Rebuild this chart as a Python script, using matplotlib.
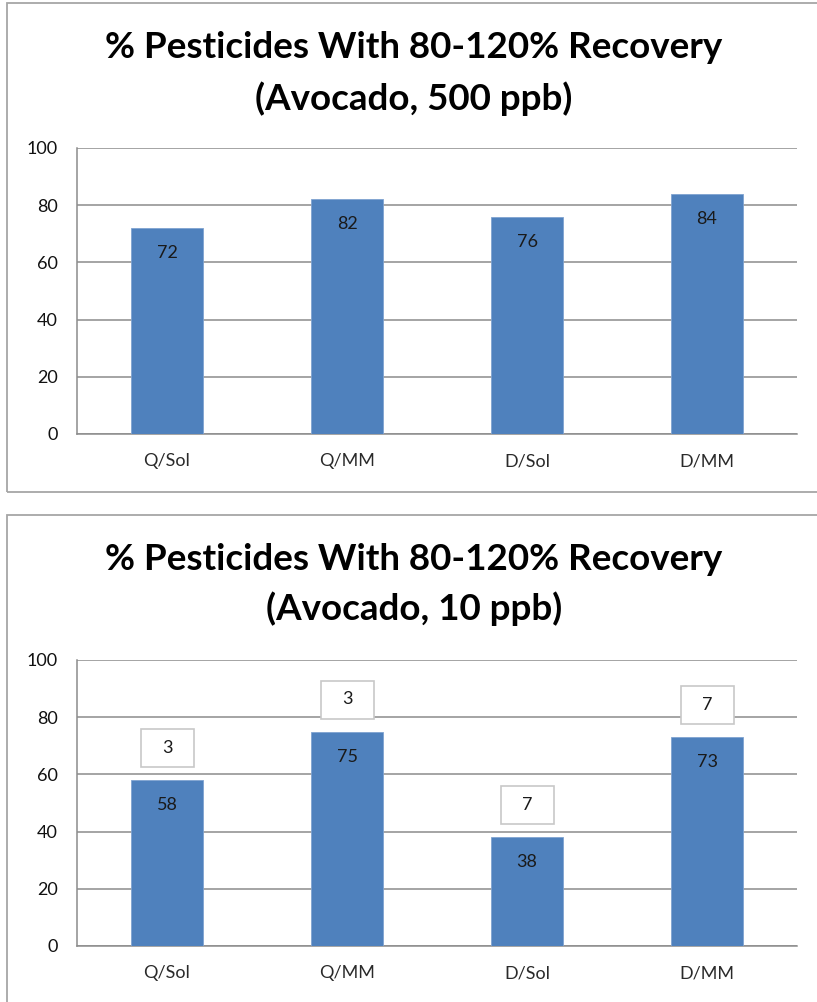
import matplotlib
matplotlib.use("Agg")
import matplotlib.pyplot as plt
from matplotlib.patches import Rectangle
from matplotlib.transforms import ScaledTranslation

plt.rcParams['font.family'] = ['Lato', 'DejaVu Sans']

categories = ["Q/Sol", "Q/MM", "D/Sol", "D/MM"]
recovery_500ppb = [72, 82, 76, 84]
recovery_10ppb = [58, 75, 38, 73]
extra_10ppb = [3, 3, 7, 7]
yticks = [0, 20, 40, 60, 80, 100]

titles = [
    "% Pesticides With 80-120% Recovery\n(Avocado, 500 ppb)",
    "% Pesticides With 80-120% Recovery\n(Avocado, 10 ppb)",
]

BAR = "#4F81BD"
GRID = "#8C8C8C"
FRAME = "#A6A6A6"

W, H = 817, 1002
fig = plt.figure(figsize=(W / 100, H / 100), dpi=100)


def fx(px):
    return px / W


def fy(py):
    return 1 - py / H


# panel frames (top, bottom in pixels)
for top, bottom in [(3, 492), (515, 1010)]:
    fig.patches.append(Rectangle((fx(7), fy(bottom)), fx(W + 20 - 7), (bottom - top) / H,
                                 transform=fig.transFigure, fill=False,
                                 edgecolor=FRAME, linewidth=1.3))

panels = [
    dict(title_y=(48, 99), ax_top=148, ax_bot=434, values=recovery_500ppb, extra=None, title=titles[0]),
    dict(title_y=(560, 609), ax_top=660, ax_bot=946, values=recovery_10ppb, extra=extra_10ppb, title=titles[1]),
]

for p in panels:
    line1, line2 = p["title"].split("\n")
    fig.text(fx(414), fy(p["title_y"][0]), line1, ha="center", va="center",
             fontsize=26.5, fontweight="bold", color="black")
    fig.text(fx(414), fy(p["title_y"][1]), line2, ha="center", va="center",
             fontsize=26.5, fontweight="bold", color="black")

    ax = fig.add_axes([fx(77), fy(p["ax_bot"]), fx(797) - fx(77),
                       (p["ax_bot"] - p["ax_top"]) / H])
    x = list(range(len(categories)))
    ax.bar(x, p["values"], width=0.405, color=BAR, edgecolor="#7FA3D1",
           linewidth=0.6, zorder=3)
    ax.set_xlim(-0.5, len(categories) - 0.5)
    ax.set_ylim(0, 100)
    ax.set_yticks(yticks)
    ax.set_yticklabels([str(t) for t in yticks], fontsize=13, color="#111111")
    ax.set_xticks(x)
    ax.set_xticklabels(categories, fontsize=13, color="#2a2a2a")
    ax.tick_params(axis="y", length=0, pad=14)
    ax.tick_params(axis="x", length=0, pad=14)
    ax.grid(axis="y", color=GRID, linewidth=1.1, zorder=0)
    for side in ["top", "right"]:
        ax.spines[side].set_visible(False)
    ax.spines["left"].set_color(GRID)
    ax.spines["left"].set_linewidth(1.1)
    ax.spines["bottom"].set_color(GRID)
    ax.spines["bottom"].set_linewidth(1.1)
    ax.patch.set_alpha(0)

    for xi, v in zip(x, p["values"]):
        ax.annotate(str(v), (xi, v), xytext=(0, -25), textcoords="offset pixels",
                    ha="center", va="center", fontsize=13, color="#1a1a1a", zorder=5)

    if p["extra"] is not None:
        for xi, v, e in zip(x, p["values"], p["extra"]):
            trans = fig.dpi_scale_trans + ScaledTranslation(xi, v, ax.transData)
            ax.add_patch(Rectangle((-0.265, 0.13), 0.53, 0.38, transform=trans,
                                   facecolor="white", edgecolor="#C8C8C8",
                                   linewidth=1.2, zorder=4, clip_on=False))
            ax.text(0, 0.32, str(e), transform=trans, ha="center", va="center",
                    fontsize=13, color="#1a1a1a", zorder=5)

fig.savefig("out.png", dpi=100)
